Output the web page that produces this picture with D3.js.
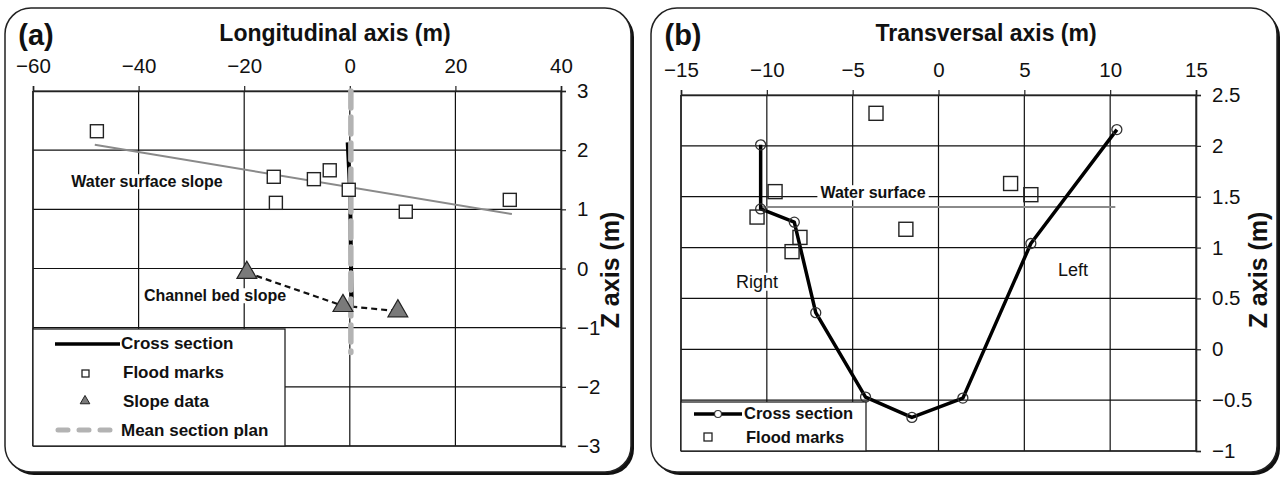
<!DOCTYPE html>
<html>
<head>
<meta charset="utf-8">
<script src="https://cdn.jsdelivr.net/npm/d3@7"></script>
<style>
  html, body { margin: 0; padding: 0; background: #fff; }
  svg text { font-family: "Liberation Sans", Arial, sans-serif; }
</style>
</head>
<body>
<svg id="chart" width="1283" height="478"></svg>
<script>
// ---- Panel (a): longitudinal profile ----
const aXTicks = [-60, -40, -20, 0, 20, 40];
const aZTicks = [3, 2, 1, 0, -1, -2, -3];
const aFloodX = [-47.9, -14.4, -14.0, -6.8, -3.8, -0.2, 10.6, 30.3];
const aFloodZ = [2.32, 1.55, 1.11, 1.51, 1.66, 1.33, 0.96, 1.16];
const aSurfaceX = [-48.3, 30.7];
const aSurfaceZ = [2.09, 0.92];
const aSlopeX = [-19.5, -1.3, 9.1];
const aSlopeZ = [-0.07, -0.63, -0.72];
const aSectionX = [-0.4, -0.1, 0.0, 0.1, 0.2, 0.3, 0.4];
const aSectionZ = [2.13, 1.6, 1.38, 1.0, 0.3, -0.3, -0.67];
const aPlanX = [0.2, 0.2];
const aPlanZ = [3, -1.42];

// ---- Panel (b): cross section ----
const bXTicks = [-15, -10, -5, 0, 5, 10, 15];
const bZTicks = [2.5, 2, 1.5, 1, 0.5, 0, -0.5, -1];
const bSectionX = [-10.36, -10.36, -8.4, -7.15, -4.25, -1.55, 1.42, 5.38, 10.39];
const bSectionZ = [2.01, 1.38, 1.25, 0.36, -0.47, -0.67, -0.48, 1.04, 2.16];
const bFloodX = [-3.64, -9.52, -10.57, -8.07, -8.53, -1.9, 4.2, 5.38];
const bFloodZ = [2.32, 1.55, 1.30, 1.10, 0.96, 1.18, 1.63, 1.52];
const bSurfaceX = [-10.3, 10.3];
const bSurfaceZ = [1.40, 1.40];

const svg = d3.select("#chart");

function frame(x0) {
  const g = svg.append("g");
  g.append("rect").attr("x", x0 + 3).attr("y", 11).attr("width", 626).attr("height", 464)
    .attr("rx", 26).attr("fill", "#111");
  g.append("rect").attr("x", x0).attr("y", 8).attr("width", 626).attr("height", 464)
    .attr("rx", 26).attr("fill", "#fff").attr("stroke", "#222").attr("stroke-width", 1.5);
}
frame(5);
frame(651);

function pairs(xs, zs) { return xs.map((x, i) => [x, zs[i]]); }

function panel(opt) {
  const x = d3.scaleLinear().domain(opt.xDomain).range(opt.xRange);
  const y = d3.scaleLinear().domain(opt.zDomain).range(opt.zRange);
  const g = svg.append("g");

  // grid
  g.append("g").selectAll("line").data(opt.xTicks).join("line")
    .attr("x1", d => x(d)).attr("x2", d => x(d))
    .attr("y1", opt.zRange[0]).attr("y2", opt.zRange[1])
    .attr("stroke", "#111").attr("stroke-width", 1.2);
  g.append("g").selectAll("line").data(opt.zTicks).join("line")
    .attr("x1", opt.xRange[0]).attr("x2", opt.xRange[1])
    .attr("y1", d => y(d)).attr("y2", d => y(d))
    .attr("stroke", "#111").attr("stroke-width", 1.2);

  // top axis
  const top = g.append("g").attr("transform", `translate(0,${opt.zRange[1]})`)
    .call(d3.axisTop(x).tickValues(opt.xTicks).tickSize(5).tickPadding(13).tickFormat(d3.format("")));
  // right axis
  const right = g.append("g").attr("transform", `translate(${opt.xRange[1]},0)`)
    .call(d3.axisRight(y).tickValues(opt.zTicks).tickSize(5).tickPadding(11).tickFormat(d3.format("")));
  [top, right].forEach(a => {
    a.select(".domain").attr("stroke", "#222").attr("stroke-width", 1.6);
    a.selectAll(".tick line").attr("stroke", "#222").attr("stroke-width", 1.2);
    a.selectAll(".tick text").attr("font-size", 20.5).attr("fill", "#111")
      .attr("font-family", "Liberation Sans, Arial, sans-serif");
  });
  // left and bottom borders
  g.append("line").attr("x1", opt.xRange[0]).attr("x2", opt.xRange[0])
    .attr("y1", opt.zRange[0]).attr("y2", opt.zRange[1]).attr("stroke", "#222").attr("stroke-width", 1.5);
  g.append("line").attr("x1", opt.xRange[0]).attr("x2", opt.xRange[1])
    .attr("y1", opt.zRange[0]).attr("y2", opt.zRange[0]).attr("stroke", "#222").attr("stroke-width", 1.5);

  return { g, x, y };
}

function labelBox(g, text, cx, cy, size, weight, anchor) {
  const t = g.append("text").attr("x", cx).attr("y", cy).attr("font-size", size)
    .attr("font-weight", weight).attr("text-anchor", anchor || "middle")
    .attr("dominant-baseline", "middle").attr("fill", "#111").text(text);
  const bb = t.node().getBBox();
  g.insert("rect", () => t.node()).attr("x", bb.x - 3).attr("y", bb.y + 1)
    .attr("width", bb.width + 6).attr("height", bb.height - 2).attr("fill", "#fff");
  return t;
}

// ===== Panel (a) =====
const A = panel({ xDomain: [-60, 40], xRange: [33, 561], zDomain: [-3, 3], zRange: [446, 91],
                  xTicks: aXTicks, zTicks: aZTicks });
{
  const { g, x, y } = A;
  const line = d3.line().x(d => x(d[0])).y(d => y(d[1]));

  labelBox(g, "Water surface slope", 147, 183, 16, "bold");
  labelBox(g, "Channel bed slope", 215, 297, 16, "bold");

  g.append("path").attr("d", line(pairs(aSurfaceX, aSurfaceZ)))
    .attr("fill", "none").attr("stroke", "#8a8a8a").attr("stroke-width", 2);
  g.append("path").attr("d", line(pairs(aSlopeX, aSlopeZ)))
    .attr("fill", "none").attr("stroke", "#111").attr("stroke-width", 2.2).attr("stroke-dasharray", "6,4");

  g.append("path").attr("d", line(pairs(aSectionX, aSectionZ)))
    .attr("fill", "none").attr("stroke", "#000").attr("stroke-width", 4);
  g.append("path").attr("d", line(pairs(aPlanX, aPlanZ)))
    .attr("fill", "none").attr("stroke", "#b3b3b3").attr("stroke-width", 5.5)
    .attr("stroke-linecap", "round").attr("stroke-dasharray", "17,9");

  g.append("g").selectAll("rect").data(pairs(aFloodX, aFloodZ)).join("rect")
    .attr("x", d => x(d[0]) - 6.5).attr("y", d => y(d[1]) - 6.5).attr("width", 13).attr("height", 13)
    .attr("fill", "#fff").attr("stroke", "#222").attr("stroke-width", 1.4);

  const tri = d3.symbol().type(d3.symbolTriangle).size(170);
  g.append("g").selectAll("path").data(pairs(aSlopeX, aSlopeZ)).join("path")
    .attr("d", tri).attr("transform", d => `translate(${x(d[0])},${y(d[1])})`)
    .attr("fill", "#7a7a7a").attr("stroke", "#222").attr("stroke-width", 1.2);

  // legend
  const L = g.append("g");
  L.append("rect").attr("x", 33).attr("y", 329).attr("width", 252).attr("height", 117)
    .attr("fill", "#fff").attr("stroke", "#222").attr("stroke-width", 1.3);
  L.append("line").attr("x1", 55).attr("x2", 120).attr("y1", 344).attr("y2", 344)
    .attr("stroke", "#000").attr("stroke-width", 3.5);
  L.append("rect").attr("x", 82).attr("y", 370).attr("width", 7).attr("height", 7)
    .attr("fill", "#fff").attr("stroke", "#222").attr("stroke-width", 1.3);
  L.append("path").attr("d", d3.symbol().type(d3.symbolTriangle).size(40))
    .attr("transform", "translate(85,401)").attr("fill", "#7a7a7a").attr("stroke", "#222");
  L.append("line").attr("x1", 58).attr("x2", 118).attr("y1", 430).attr("y2", 430)
    .attr("stroke", "#b3b3b3").attr("stroke-width", 5).attr("stroke-linecap", "round")
    .attr("stroke-dasharray", "10,11");
  const legA = ["Cross section", "Flood marks", "Slope data", "Mean section plan"];
  L.selectAll("text.lg").data(legA).join("text").attr("class", "lg")
    .attr("x", (d, i) => i === 0 || i === 3 ? 121 : 123).attr("y", (d, i) => 345 + i * 29)
    .attr("dominant-baseline", "middle").attr("font-size", 17).attr("font-weight", "bold")
    .attr("fill", "#111").text(d => d);
}

// ===== Panel (b) =====
const B = panel({ xDomain: [-15, 15], xRange: [681, 1196], zDomain: [-1, 2.5], zRange: [451, 95],
                  xTicks: bXTicks, zTicks: bZTicks });
{
  const { g, x, y } = B;
  const line = d3.line().x(d => x(d[0])).y(d => y(d[1]));

  labelBox(g, "Water surface", 873, 194, 16, "bold");
  labelBox(g, "Right", 757, 283, 18, "normal");
  labelBox(g, "Left", 1073, 271, 18, "normal");

  g.append("path").attr("d", line(pairs(bSurfaceX, bSurfaceZ)))
    .attr("fill", "none").attr("stroke", "#8a8a8a").attr("stroke-width", 2);

  g.append("path").attr("d", line(pairs(bSectionX, bSectionZ)))
    .attr("fill", "none").attr("stroke", "#000").attr("stroke-width", 3.5).attr("stroke-linejoin", "round");
  g.append("g").selectAll("circle").data(pairs(bSectionX, bSectionZ)).join("circle")
    .attr("cx", d => x(d[0])).attr("cy", d => y(d[1])).attr("r", 5)
    .attr("fill", "none").attr("stroke", "#333").attr("stroke-width", 1.3);

  g.append("g").selectAll("rect").data(pairs(bFloodX, bFloodZ)).join("rect")
    .attr("x", d => x(d[0]) - 7).attr("y", d => y(d[1]) - 7).attr("width", 14).attr("height", 14)
    .attr("fill", "none").attr("stroke", "#222").attr("stroke-width", 1.4);

  // legend
  const L = g.append("g");
  L.append("rect").attr("x", 681).attr("y", 402).attr("width", 185).attr("height", 49)
    .attr("fill", "#fff").attr("stroke", "#222").attr("stroke-width", 1.3);
  L.append("line").attr("x1", 694).attr("x2", 742).attr("y1", 414).attr("y2", 414)
    .attr("stroke", "#000").attr("stroke-width", 3.5);
  L.append("circle").attr("cx", 718).attr("cy", 414).attr("r", 3.5)
    .attr("fill", "#fff").attr("stroke", "#333").attr("stroke-width", 1.2);
  L.append("rect").attr("x", 704).attr("y", 433).attr("width", 8).attr("height", 8)
    .attr("fill", "#fff").attr("stroke", "#222").attr("stroke-width", 1.3);
  const legB = ["Cross section", "Flood marks"];
  L.selectAll("text.lg").data(legB).join("text").attr("class", "lg")
    .attr("x", (d, i) => i === 0 ? 744 : 746).attr("y", (d, i) => 415 + i * 24)
    .attr("dominant-baseline", "middle").attr("font-size", 16.5).attr("font-weight", "bold")
    .attr("fill", "#111").text(d => d);
}

// ===== titles =====
function txt(s, x, y, size, weight, rot) {
  const t = svg.append("text").attr("font-size", size).attr("font-weight", weight)
    .attr("fill", "#111").attr("text-anchor", "middle").attr("dominant-baseline", "middle").text(s);
  if (rot) t.attr("transform", `translate(${x},${y}) rotate(${rot})`);
  else t.attr("x", x).attr("y", y);
  return t;
}
txt("(a)", 36, 37, 29, "bold");
txt("Longitudinal axis (m)", 335, 35, 23, "bold");
txt("Z axis (m)", 612, 270, 25, "bold", -90);
txt("(b)", 683, 37, 29, "bold");
txt("Transversal axis (m)", 986, 35, 23, "bold");
txt("Z axis (m)", 1260, 270, 25, "bold", -90);
</script>
</body>
</html>
